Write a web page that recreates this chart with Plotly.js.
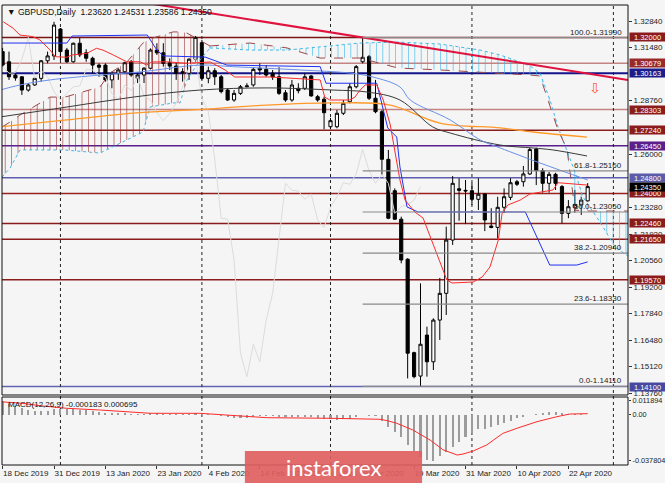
<!DOCTYPE html>
<html><head><meta charset="utf-8">
<script src="https://cdn.plot.ly/plotly-3.0.1.min.js"></script>
<style>html,body{margin:0;padding:0;background:#f5f5f5;}#chart{width:665px;height:483px;}</style>
</head><body><div id="chart"></div>
<script>
// ---------- DATA (bar index 0 = 31 Dec 2019, first bar = 18 Dec 2019) ----------
const firstBar = -8;
const opens = [1.3127,1.3075,1.3007,1.2998,1.2930,1.2956,1.2990,1.3080,1.3105,1.3243,
1.3135,1.3075,1.3170,1.3121,1.3093,1.3058,1.3058,1.2982,1.3016,1.3024,
1.3075,1.2990,1.3007,1.3042,1.3135,1.3121,1.3070,1.3053,1.3024,1.3016,
1.3088,1.3173,1.2990,1.3029,1.2998,1.2930,1.2879,1.2913,1.2947,1.2956,
1.3042,1.3036,1.3016,1.2998,1.2916,1.2879,1.2939,1.2939,1.3002,1.2896,
1.2883,1.2742,1.2742,1.2811,1.2870,1.2947,1.3075,1.3101,1.2888,1.2819,
1.2575,1.2414,1.2268,1.2063,1.1584,1.1464,1.1674,1.1537,1.1751,1.1888,
1.2161,1.2424,1.2416,1.2414,1.2370,1.2397,1.2233,1.2226,1.2329,1.2380,
1.2460,1.2460,1.2500,1.2628,1.2517,1.2452,1.2498,1.2435,1.2298,1.2327,
1.2341,1.2362];
const highs = [1.3146,1.3127,1.3024,1.3002,1.2966,1.2998,1.3084,1.3127,1.3280,1.3248,
1.3146,1.3173,1.3197,1.3139,1.3101,1.3067,1.3067,1.3024,1.3042,1.3075,
1.3084,1.3017,1.3047,1.3144,1.3170,1.3170,1.3093,1.3070,1.3042,1.3093,
1.3207,1.3187,1.3050,1.3042,1.3007,1.2939,1.2930,1.2956,1.2965,1.3047,
1.3067,1.3058,1.3033,1.3047,1.2930,1.2982,1.2965,1.3016,1.3007,1.2905,
1.2896,1.2787,1.2828,1.2879,1.2965,1.3058,1.3199,1.3110,1.2982,1.2828,
1.2623,1.2426,1.2281,1.2068,1.1589,1.1939,1.1717,1.1760,1.1967,1.2230,
1.2489,1.2478,1.2469,1.2455,1.2478,1.2401,1.2324,1.2383,1.2426,1.2478,
1.2469,1.2541,1.2635,1.2635,1.2529,1.2511,1.2506,1.2443,1.2366,1.2418,
1.2383,1.24531];
const lows = [1.3048,1.2982,1.2978,1.2905,1.2922,1.2951,1.2973,1.3067,1.3084,1.3084,
1.3069,1.3070,1.3099,1.3075,1.3016,1.2998,1.2973,1.2939,1.2982,1.3016,
1.2998,1.2966,1.2966,1.3036,1.3110,1.3050,1.3033,1.2982,1.2973,1.2982,
1.3075,1.2982,1.2965,1.2956,1.2913,1.2875,1.2870,1.2905,1.2944,1.2947,
1.3007,1.2998,1.2982,1.2905,1.2870,1.2870,1.2913,1.2930,1.2896,1.2870,
1.2729,1.2729,1.2734,1.2802,1.2862,1.2939,1.3067,1.2879,1.2811,1.2495,
1.2268,1.2264,1.2042,1.1452,1.1452,1.1411,1.1461,1.1495,1.1649,1.1777,
1.2136,1.2260,1.2243,1.2341,1.2315,1.2207,1.2221,1.2170,1.2300,1.2366,
1.2438,1.2435,1.2495,1.2443,1.2404,1.2404,1.2418,1.2247,1.2273,1.2301,
1.2290,1.23586];
const closes = [1.3058,1.2998,1.2992,1.2930,1.2956,1.2990,1.3080,1.3105,1.3263,1.3127,
1.3075,1.3170,1.3110,1.3093,1.3058,1.3047,1.2982,1.3016,1.3033,1.3070,
1.3007,1.3007,1.3042,1.3135,1.3121,1.3067,1.3053,1.3016,1.3019,1.3088,
1.3200,1.2990,1.3029,1.2998,1.2922,1.2879,1.2913,1.2947,1.2951,1.3036,
1.3033,1.3007,1.2997,1.2913,1.2879,1.2956,1.2927,1.2998,1.2900,1.2879,
1.2814,1.2773,1.2811,1.2862,1.2947,1.3050,1.3098,1.2888,1.2819,1.2575,
1.2273,1.2268,1.2059,1.1581,1.1461,1.1627,1.1537,1.1751,1.1888,1.2161,
1.2452,1.2416,1.2413,1.2370,1.2396,1.2264,1.2226,1.2329,1.2383,1.2455,
1.2447,1.2500,1.2625,1.2517,1.2452,1.2498,1.2452,1.2298,1.2332,1.2344,
1.2366,1.2435];
const macdMain = [0.0115,0.0090,0.0073,0.0055,0.0038,0.0028,0.0027,0.0032,0.0045,0.0045,
0.0042,0.0043,0.0040,0.0035,0.0030,0.0024,0.0016,0.0012,0.0010,0.0010,
0.0006,0.0004,0.0004,0.0009,0.0009,0.0007,0.0004,0.0002,0.0001,0.0003,
0.0010,0.0006,0.0003,-0.0004,-0.0012,-0.0022,-0.0026,-0.0027,-0.0026,-0.0018,
-0.0014,-0.0012,-0.0013,-0.0019,-0.0024,-0.0022,-0.0022,-0.0018,-0.0022,-0.0026,
-0.0034,-0.0040,-0.0042,-0.0040,-0.0033,-0.0018,-0.0006,-0.0008,-0.0016,-0.0055,
-0.0100,-0.0141,-0.0182,-0.0251,-0.0297,-0.0346,-0.0372,-0.0378,-0.0341,-0.0305,
-0.0264,-0.0223,-0.0182,-0.0155,-0.0122,-0.0122,-0.0100,-0.0086,-0.0073,-0.0051,
-0.0031,-0.0018,-0.0003,0.0008,0.0015,0.0020,0.0022,0.0012,0.0006,0.0004,
0.0002,-0.000183];
const signalX = [-8.4,-5.3,-1.7,2.0,7.2,11.4,15.0,22.7,26.9,30.5,33.1,42.9,50.7,51.8,53.3,55.8,58.5,60.5,62.7,63.6,65.2,67.3,69.8,72.0,75.1,78.2,80.2,83.0];
const signalY = [0.0105,0.0094,0.0070,0.0051,0.0037,0.0023,0.0010,0.0010,-0.0004,-0.0018,-0.0026,-0.0031,-0.0039,-0.0050,-0.0072,-0.0127,-0.0210,-0.0290,-0.0333,-0.0325,-0.0300,-0.0250,-0.0155,-0.0113,-0.0059,-0.0018,0.0004,0.000695];

// moving averages
const maBlueX = [-8.4,-5.3,-0.6,7.2,13.4,22.7,27.8,38.3,46.0,49.6,53.8,55.4,61.6,66.3,69.4,75.6,83.0];
const maBlueY = [1.2930,1.2956,1.2982,1.3007,1.3023,1.3058,1.3050,1.3033,1.3017,1.2997,1.2946,1.2879,1.2777,1.2674,1.2633,1.2556,1.2469];
const maBlackX = [-8.4,2.0,12.3,22.7,33.1,43.4,48.7,53.8,58.9,61.6,69.4,74.5,77.6,82.9];
const maBlackY = [1.2792,1.2843,1.2894,1.2930,1.2941,1.2930,1.2920,1.2879,1.2741,1.2710,1.2648,1.2633,1.2623,1.2592];
const maOrangeX = [-8.4,2.0,12.3,21.6,33.1,43.4,52.3,60.0,69.4,74.5,82.9];
const maOrangeY = [1.2741,1.2777,1.2812,1.2828,1.2853,1.2864,1.2853,1.2761,1.2736,1.2715,1.2689];

// Ichimoku
const tenkanX = [-7.9,-6.4,-5.3,-3.3,-2.2,-0.6,0.2,2.0,2.8,5.1,6.6,7.6,9.2,11.3,13.4,14.4,15.2,17.5,20.6,24.3,26.6,28.1,33.6,41.4,42.1,42.9,46.0,46.8,47.6,48.4,50.2,51.2,52.3,53.0,53.8,54.6,55.4,56.1,57.4,58.9,60.0,61.1,61.9,65.2,66.6,67.8,69.1,69.7,70.6,72.5,74.0,77.6,78.4,79.8,82.9];
const tenkanY = [1.3280,1.3248,1.3212,1.3204,1.3187,1.3135,1.3101,1.3098,1.3110,1.3118,1.3144,1.3135,1.3110,1.3075,1.3075,1.3058,1.3074,1.3075,1.3067,1.3074,1.3033,1.2997,1.2997,1.2982,1.2894,1.2879,1.2879,1.2894,1.2930,1.2956,1.2956,1.2879,1.2751,1.2623,1.2469,1.2366,1.2331,1.2305,1.2274,1.2146,1.2059,1.1956,1.1941,1.1946,1.1972,1.2023,1.2161,1.2300,1.2341,1.2366,1.2397,1.2418,1.2455,1.2452,1.2443];
const kijunX = [-8.1,2.0,2.8,14.5,16.0,17.0,23.5,26.2,26.9,41.4,42.3,50.2,51.2,51.9,53.3,53.8,54.9,56.6,73.3,77.1,81.3,83.0];
const kijunY = [1.3171,1.3171,1.3207,1.3212,1.3135,1.3105,1.3099,1.3068,1.3058,1.3050,1.2965,1.2965,1.2828,1.2736,1.2689,1.2536,1.2331,1.2305,1.2305,1.2033,1.2033,1.2049];
const chikouShift = 26;
const cloudRedX = [-8.09,-6.84,-5.29,-0.62,1.71,7.15,8.71,11.35,13.84,14.93,18.51,19.60,20.68,22.71,24.26];
const cloudRedTop = [1.2741,1.2766,1.2802,1.2894,1.2894,1.2946,1.3017,1.3074,1.3171,1.3192,1.3228,1.3228,1.3222,1.3187,1.3156];
const cloudRedBot = [1.2484,1.2530,1.2623,1.2623,1.2623,1.2607,1.2633,1.2674,1.2715,1.2843,1.2864,1.2864,1.2982,1.3084,1.3146];
const cloudBlueX = [24.26,30.48,36.24,41.37,47.59,53.50,60.03,66.25,69.36,72.47,74.03,75.58,77.14,78.38,79.78,81.03,82.27,84.91,87.25,89.27];
const cloudBlueTop = [1.3146,1.3135,1.3135,1.3151,1.3171,1.3176,1.3166,1.3135,1.3110,1.3074,1.3053,1.3017,1.2879,1.2741,1.2623,1.2510,1.2382,1.2254,1.2126,1.2079];
const cloudBlueBot = [1.3156,1.3171,1.3146,1.3094,1.3094,1.3043,1.3033,1.3023,1.3018,1.3012,1.3007,1.3002,1.2853,1.2725,1.2628,1.2315,1.2310,1.2310,1.2310,1.2310];

// horizontal levels
const levels = [1.32000,1.30679,1.30163,1.28303,1.27240,1.26450,1.24800,1.24000,1.22460,1.21650,1.19570,1.14100];
const levelLine = ['#7d1414','#c48484','#14148a','#c48484','#8b1c1c','#5a1f8a','#5e5eb0','#9b2020','#8b1c1c','#8b1c1c','#8b1c1c','#6464b4'];
const levelBox = ['#8b1c1c','#9a2a2a','#1c1c8c','#8b1c1c','#8b1c1c','#5a1f8a','#5b5ba8','#8b1c1c','#8b1c1c','#8b1c1c','#8b1c1c','#4848a0'];
const lastPrice = 1.24350;

// fibonacci
const fibStartBar = 48;
const fibPct = ['100.0','61.8','50.0','38.2','23.6','0.0'];
const fibPrice = [1.31990,1.25160,1.23050,1.20940,1.18330,1.14110];

// trend line
const trendX = [14.5, 89.27];
const trendY = [1.3376, 1.2982];
const arrowBar = 84.2, arrowPrice = 1.2941;

// axes
const monthStarts = [1, 23, 43, 65, 87];
const xTickBars = [-8,0,8,16,24,32,40,48,56,64,72,80];
const xTickText = ['18 Dec 2019','31 Dec 2019','13 Jan 2020','23 Jan 2020','4 Feb 2020','14 Feb 2020','26 Feb 2020','9 Mar 2020','19 Mar 2020','31 Mar 2020','10 Apr 2020','22 Apr 2020'];
const yTickVals = [1.3284,1.3148,1.2876,1.2600,1.2328,1.2192,1.2056,1.1920,1.1784,1.1648,1.1512,1.1376];
const macdTickVals = [0.011894, 0, -0.037804];
const macdTickText = ['0.011894','0.00','-0.037804'];
const titleText = '▼ GBPUSD,Daily\u00a0\u00a01.23620 1.24531 1.23586 1.24350';
const macdText = 'MACD(12,26,9) -0.000183 0.000695';

// ---------- BUILD ----------
const barX = opens.map((_, i) => firstBar + i);
const FONT = 'Liberation Sans, Arial, sans-serif';
const mainDom = [0.1522, 1], macdDom = [0, 0.1478];

const traces = [];
traces.push({x: cloudRedX, y: cloudRedTop, mode:'lines', line:{color:'#a04848', width:1, dash:'dash'}, hoverinfo:'skip', showlegend:false});
traces.push({x: cloudRedX, y: cloudRedBot, mode:'lines', line:{color:'#40b8e8', width:1, dash:'dot'}, fill:'tonexty', fillcolor:'rgba(0,0,0,0)',
  fillpattern:{shape:'|', fgcolor:'rgba(150,40,40,0.7)', bgcolor:'rgba(0,0,0,0)', size:6.4, solidity:0.13}, hoverinfo:'skip', showlegend:false});
traces.push({x: cloudBlueX, y: cloudBlueTop, mode:'lines', line:{color:'#40b8e8', width:1, dash:'dot'}, hoverinfo:'skip', showlegend:false});
traces.push({x: cloudBlueX, y: cloudBlueBot, mode:'lines', line:{color:'#a04848', width:1, dash:'dash'}, fill:'tonexty', fillcolor:'rgba(0,0,0,0)',
  fillpattern:{shape:'|', fgcolor:'rgba(40,180,235,0.7)', bgcolor:'rgba(0,0,0,0)', size:6.4, solidity:0.13}, hoverinfo:'skip', showlegend:false});
traces.push({x: barX.slice(chikouShift).map(v => v - chikouShift), y: closes.slice(chikouShift), mode:'lines', line:{color:'#dcdcdc', width:1}, hoverinfo:'skip', showlegend:false});
traces.push({x: maOrangeX, y: maOrangeY, mode:'lines', line:{color:'#ff9a2a', width:1.3, shape:'spline'}, hoverinfo:'skip', showlegend:false});
traces.push({x: maBlackX, y: maBlackY, mode:'lines', line:{color:'#3a3a3a', width:1, shape:'spline'}, hoverinfo:'skip', showlegend:false});
traces.push({x: maBlueX, y: maBlueY, mode:'lines', line:{color:'#6a90ea', width:1, shape:'spline'}, hoverinfo:'skip', showlegend:false});
traces.push({x: kijunX, y: kijunY, mode:'lines', line:{color:'#2030f0', width:1}, hoverinfo:'skip', showlegend:false});
traces.push({x: tenkanX, y: tenkanY, mode:'lines', line:{color:'#ff2a2a', width:1}, hoverinfo:'skip', showlegend:false});
traces.push({x: trendX, y: trendY, mode:'lines', line:{color:'#e0123e', width:2}, hoverinfo:'skip', showlegend:false});
traces.push({type:'candlestick', x: barX, open: opens, high: highs, low: lows, close: closes,
  increasing:{line:{color:'#000', width:1}, fillcolor:'#ffffff'},
  decreasing:{line:{color:'#000', width:1}, fillcolor:'#000000'},
  whiskerwidth:0, hoverinfo:'skip', showlegend:false});
traces.push({type:'bar', x: barX, y: macdMain, yaxis:'y2', marker:{color:'#9c9c9c', line:{width:0}}, width:0.32, hoverinfo:'skip', showlegend:false});
traces.push({x: signalX, y: signalY, yaxis:'y2', mode:'lines', line:{color:'#ff2a2a', width:1}, hoverinfo:'skip', showlegend:false});

const shapes = [];
levels.forEach((lv, i) => shapes.push({type:'line', xref:'paper', x0:0, x1:1, yref:'y', y0:lv, y1:lv, layer:'below',
  line:{color: levelLine[i], width: lv === 1.30163 ? 2 : 1.5}}));
fibPrice.forEach(p => shapes.push({type:'line', xref:'x', x0:fibStartBar, x1:89.27, yref:'y', y0:p, y1:p, layer:'above', line:{color:'#8a8a8a', width:1.2}}));
monthStarts.forEach(m => shapes.push({type:'line', xref:'x', x0:m, x1:m, yref:'paper', y0:0, y1:1, layer:'below', line:{color:'#222', width:1, dash:'dot'}}));
shapes.push({type:'rect', xref:'paper', yref:'paper', x0:0, x1:1, y0:mainDom[0], y1:mainDom[1], line:{color:'#111', width:1}, layer:'above'});
shapes.push({type:'rect', xref:'paper', yref:'paper', x0:0, x1:1, y0:macdDom[0], y1:macdDom[1], line:{color:'#111', width:1}, layer:'above'});
shapes.push({type:'rect', xref:'paper', yref:'paper', x0:0.388, x1:0.671, y0:-0.045, y1:0.0304, fillcolor:'rgba(224,96,96,0.92)', line:{width:0}, layer:'above'});

const annotations = [];
annotations.push({xref:'paper', yref:'paper', x:0, y:1, xanchor:'left', yanchor:'top', xshift:3, yshift:0, text:titleText, showarrow:false, font:{family:FONT, size:8.6, color:'#111'}});
annotations.push({xref:'paper', yref:'paper', x:0, y:macdDom[1], xanchor:'left', yanchor:'top', xshift:4, yshift:-1, text:macdText, showarrow:false, font:{family:FONT, size:8, color:'#111'}});
levels.forEach((lv, i) => annotations.push({xref:'paper', x:1, xanchor:'left', xshift:1, yref:'y', y:lv, yanchor:'middle', text:lv.toFixed(5), showarrow:false,
  font:{family:FONT, size:7.5, color:'#ffffff'}, bgcolor:levelBox[i], borderpad:0, width:35, height:8}));
annotations.push({xref:'paper', x:1, xanchor:'left', xshift:1, yref:'y', y:lastPrice, yanchor:'middle', text:lastPrice.toFixed(5), showarrow:false,
  font:{family:FONT, size:7.5, color:'#ffffff'}, bgcolor:'#000000', borderpad:0, width:35, height:8});
fibPrice.forEach((p, i) => annotations.push({xref:'paper', x:1, xanchor:'right', xshift:-4, yref:'y', y:p, yanchor:'bottom', yshift:-1,
  text: fibPct[i] + '-' + p.toFixed(5), showarrow:false, font:{family:FONT, size:8, color:'#222'}}));
annotations.push({xref:'x', x:arrowBar, yref:'y', y:arrowPrice, text:'⇩', showarrow:false, font:{family:'DejaVu Sans', size:14, color:'#ff5a3c'}});
annotations.push({xref:'paper', yref:'paper', x:0.5296, y:-0.006, xanchor:'center', yanchor:'middle', text:'instaforex', showarrow:false, font:{family:'Lato, Open Sans, sans-serif', size:22, color:'#ffffff'}});

const layout = {
  width:665, height:483,
  margin:{l:2, r:37, t:5, b:18, pad:0},
  paper_bgcolor:'#f5f5f5', plot_bgcolor:'#f5f5f5',
  showlegend:false, bargap:0,
  xaxis:{range:[-8.09, 89.27], anchor:'y2', tickmode:'array', tickvals:xTickBars, ticktext:xTickText,
    ticks:'outside', ticklen:3, tickcolor:'#333', ticklabelposition:'outside right', tickangle:0, automargin:false,
    tickfont:{family:FONT, size:8, color:'#222'}, showgrid:false, zeroline:false, showline:false,
    rangeslider:{visible:false}, fixedrange:true},
  yaxis:{domain:mainDom, range:[1.13669, 1.33660], side:'right', anchor:'x', tickmode:'array', tickvals:yTickVals,
    ticktext:yTickVals.map(v => v.toFixed(5)), ticks:'outside', ticklen:3, tickcolor:'#333', automargin:false,
    tickfont:{family:FONT, size:8, color:'#222'}, showgrid:false, zeroline:false, showline:false, fixedrange:true},
  yaxis2:{domain:macdDom, range:[-0.0415, 0.0144], side:'right', anchor:'x', tickmode:'array', tickvals:macdTickVals,
    ticktext:macdTickText, ticks:'outside', ticklen:2, tickcolor:'#333', automargin:false,
    tickfont:{family:FONT, size:7.3, color:'#222'}, showgrid:false, zeroline:false, showline:false, fixedrange:true},
  shapes: shapes, annotations: annotations
};
Plotly.newPlot('chart', traces, layout, {displayModeBar:false, staticPlot:true});
</script></body></html>
